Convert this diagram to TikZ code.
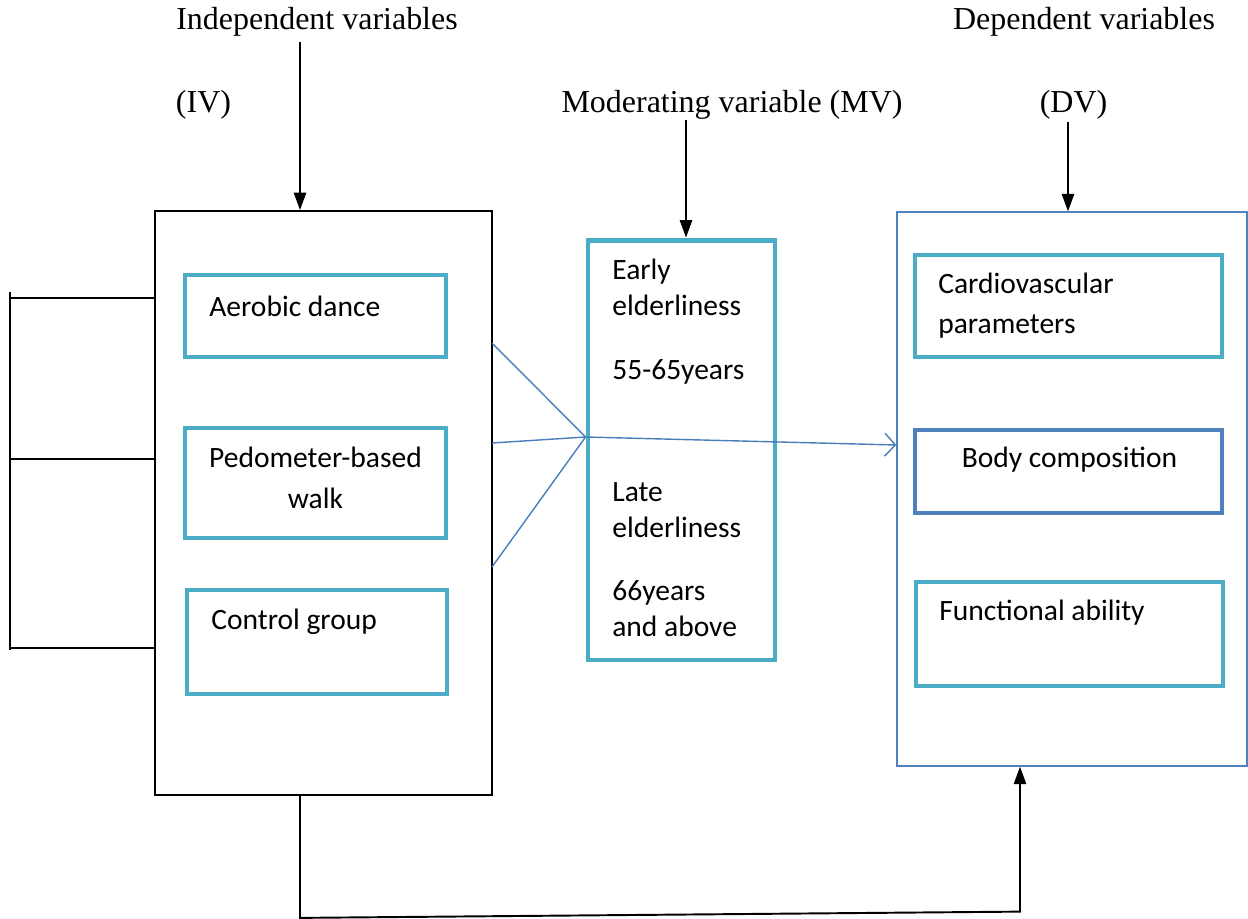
\documentclass[tikz,border=0pt]{standalone}
\usepackage{fontspec}
\setmainfont{Liberation Serif}
\newfontfamily\boxfont{Carlito}
\usetikzlibrary{positioning,arrows.meta}
\definecolor{itemteal}{HTML}{4BACC6}
\definecolor{itemblue}{HTML}{4F81BD}
\definecolor{linkblue}{HTML}{4A7EBB}

\begin{document}
\begin{tikzpicture}[x=0.02cm,y=-0.02cm,
		heading/.style={font=\fontsize{18.2}{21}\selectfont,inner sep=0pt},
		frame/.style={draw,line width=1.1pt,inner sep=0pt},
		item/.style={draw=itemteal,line width=2.8pt,inner sep=0pt},
		itemtext/.style={font=\boxfont\fontsize{16.8}{20.5}\selectfont,inner sep=0pt,align=left},
		arr/.style={line width=1.1pt,-{Triangle[length=10pt,width=7pt]}},
		link/.style={draw=linkblue,line width=0.8pt}]
		\useasboundingbox (0,0) rectangle (1248,919);

		% titles
		\node[heading]	(ivtitle)	at (317,22)		{Independent variables};
		\node[heading]	(ivtag)		at (203.5,105)	{(IV)};
		\node[heading]	(mvtitle)	at (732,105)	{Moderating variable (MV)};
		\node[heading]	(dvtitle)	at (1084,22)	{Dependent variables};
		\node[heading]	(dvtag)		at (1073.5,105)	{(DV)};

		% main frames
		\node[frame,minimum width=6.74cm,minimum height=11.68cm]				(iv)	at (323.5,503)	{};
		\node[item,minimum width=3.74cm,minimum height=8.4cm]					(mv)	at (681.5,450)	{};
		\node[draw=itemblue,line width=0.8pt,inner sep=0pt,minimum width=7cm,minimum height=11.08cm]	(dv)	at (1072,489)	{};

		% independent variables
		\node[item,minimum width=5.22cm,minimum height=1.64cm]	(aerobic)	at (315.5,316)	{};
		\node[item,minimum width=5.22cm,minimum height=2.2cm]	(pedo)		at (315.5,483)	{};
		\node[item,minimum width=5.2cm,minimum height=2.08cm]	(control)	at (317,642)	{};
		\node[itemtext,anchor=west]	(aerobictext)	at (209,306)	{Aerobic dance};
		\node[itemtext,align=center,anchor=north,font=\boxfont\fontsize{16.8}{23.3}\selectfont]	(pedotext)	at (315.5,447)	{Pedometer-based\\walk};
		\node[itemtext,anchor=west]	(controltext)	at (211,622)	{Control group};

		% moderating variable
		\node[itemtext,anchor=north west]	(early)	at (612,259)	{Early\\elderliness\\[16pt]55-65years};
		\node[itemtext,anchor=north west]	(late)	at (612,482)	{Late\\elderliness\\[15.5pt]66years\\and above};

		% dependent variables
		\node[item,minimum width=6.14cm,minimum height=2.04cm]					(cardio)	at (1068.5,306)		{};
		\node[item,draw=itemblue,minimum width=6.14cm,minimum height=1.66cm]	(body)		at (1068.5,471.5)	{};
		\node[item,minimum width=6.14cm,minimum height=2.08cm]					(func)		at (1069.5,634)		{};
		\node[itemtext,anchor=north west,font=\boxfont\fontsize{16.8}{22.7}\selectfont]	(cardiotext)	at (938,273)	{Cardiovascular\\parameters};
		\node[itemtext]					(bodytext)	at (1069.5,460)	{Body composition};
		\node[itemtext,anchor=west]		(functext)	at (939,613)	{Functional ability};

		% arrows from the titles
		\coordinate (ivsrc) at (300,42);
		\coordinate (mvsrc) at (686,120);
		\coordinate (dvsrc) at (1068,122);
		\draw[arr] (ivsrc) -- (ivsrc |- iv.north);
		\draw[arr] (mvsrc) -- (mvsrc |- mv.north);
		\draw[arr] (dvsrc) -- (dvsrc |- dv.north);

		% bracket on the left
		\draw[line width=1.1pt] (10,292) coordinate (brtop) -- (10,650) coordinate (brbot);
		\foreach \y [count=\i] in {298,459,648}{
			\coordinate (br\i) at (10,\y);
			\draw[line width=1.1pt] (br\i) -- (br\i -| iv.west);
		}

		% links through the moderating variable
		\coordinate (hub) at ([yshift=0.26cm]mv.west);
		\foreach \y [count=\i] in {343,443,567}{
			\coordinate (fan\i) at (492,\y);
			\draw[link] (fan\i) -- (hub);
		}
		\draw[link,-{Straight Barb[length=6pt,width=13pt]}] (hub) -- ([yshift=0.88cm]dv.west);

		% feedback line
		\coordinate (ivout) at ([xshift=-0.47cm]iv.south);
		\coordinate (dvin) at ([xshift=-1.04cm]dv.south);
		\draw[arr] (ivout) -- ([yshift=-2.44cm]ivout) -- ([yshift=-2.9cm]dvin) -- (dvin);
	\end{tikzpicture}
\end{document}
